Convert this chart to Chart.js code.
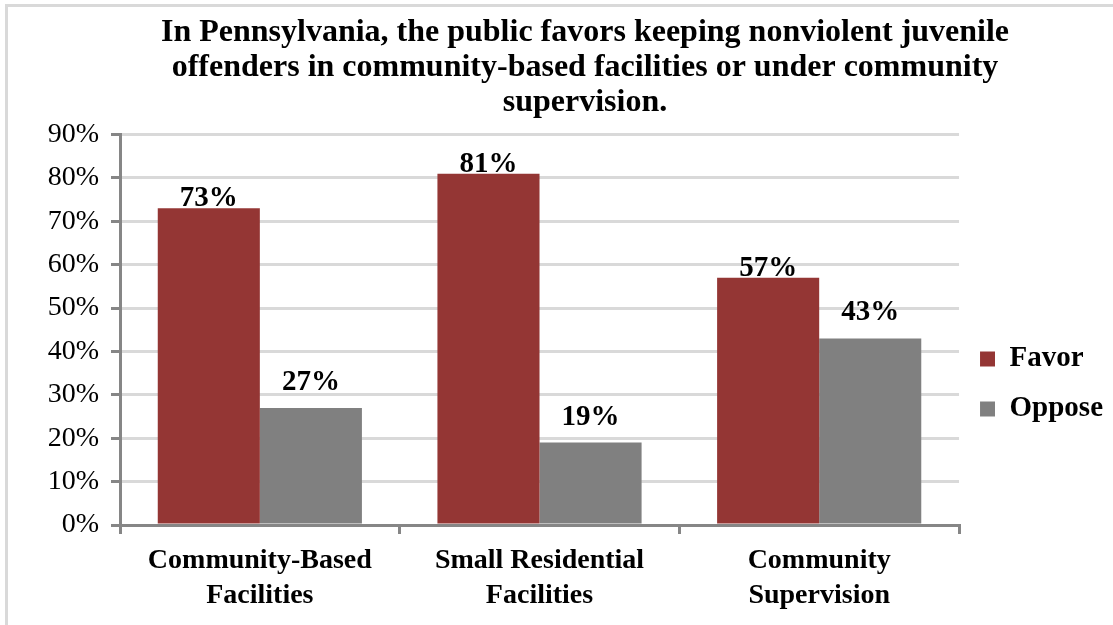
<!DOCTYPE html>
<html>
<head>
<meta charset="utf-8">
<script src="https://cdn.jsdelivr.net/npm/chart.js@4"></script>
<style>
    body { margin: 0; background: #fff; }
    #marco { position: absolute; left: 5px; top: 4px; width: 1108px; height: 621px;
             border-top: 3px solid #d9d9d9; border-left: 3px solid #d9d9d9; box-sizing: border-box; }
    #lienzo { position: absolute; left: 0; top: 0; }
</style>
</head>
<body>
<div id="marco"></div>
<canvas id="lienzo" width="1113" height="625"></canvas>
<script>
// Datos de la encuesta
const categorias = [
    ['Community-Based', 'Facilities'],
    ['Small Residential', 'Facilities'],
    ['Community', 'Supervision']
];
const favor = [73, 81, 57];
const oppose = [27, 19, 43];
const ticksY = [0, 10, 20, 30, 40, 50, 60, 70, 80, 90];

const fuente = 'Liberation Serif, Times New Roman, serif';

// Etiquetas de valor encima de cada barra (separación distinta por serie, como en el original)
const separacionEtiqueta = [2, 18];
const etiquetasBarras = {
    id: 'etiquetasBarras',
    afterDatasetsDraw(chart) {
        const ctx = chart.ctx;
        ctx.save();
        ctx.font = 'bold 29px ' + fuente;
        ctx.fillStyle = '#000';
        ctx.textAlign = 'center';
        ctx.textBaseline = 'alphabetic';
        chart.data.datasets.forEach((ds, i) => {
            chart.getDatasetMeta(i).data.forEach((bar, j) => {
                ctx.fillText(ds.data[j] + '%', bar.x, bar.y - separacionEtiqueta[i]);
            });
        });
        ctx.restore();
    }
};

// Ajuste de posición del título y la leyenda como en el original
const ajusteCajas = {
    id: 'ajusteCajas',
    afterLayout(chart) {
        if (chart.titleBlock) {
            chart.titleBlock.left += 32;
        }
        if (chart.legend) {
            chart.legend.top += 73;
            chart.legend.bottom += 73;
        }
    }
};

const ctx = document.getElementById('lienzo');
new Chart(ctx, {
    type: 'bar',
    data: {
        labels: categorias,
        datasets: [{
            label: 'Favor',
            data: favor,
            backgroundColor: '#943634'
        }, {
            label: 'Oppose',
            data: oppose,
            backgroundColor: '#808080'
        }]
    },
    options: {
        responsive: false,
        animation: false,
        layout: {
            padding: { left: 25, right: 0, top: 0, bottom: 3 }
        },
        datasets: {
            bar: { categoryPercentage: 0.73, barPercentage: 1.0 }
        },
        scales: {
            x: {
                grid: {
                    drawOnChartArea: false,
                    drawTicks: true,
                    tickLength: 9,
                    tickColor: '#868686',
                    lineWidth: 3
                },
                border: { color: '#868686', width: 3 },
                ticks: {
                    color: '#000',
                    font: { family: fuente, size: 28, weight: 'bold', lineHeight: 1.25 },
                    padding: 9
                }
            },
            y: {
                min: 0,
                max: 90,
                afterBuildTicks(axis) {
                    axis.ticks = ticksY.map(v => ({ value: v }));
                },
                afterFit(axis) {
                    axis.width = 95;
                },
                grid: {
                    color: '#d9d9d9',
                    lineWidth: 3,
                    tickColor: '#868686',
                    tickLength: 9
                },
                border: { color: '#868686', width: 3 },
                ticks: {
                    color: '#000',
                    font: { family: fuente, size: 28 },
                    padding: 12,
                    callback: v => v + '%'
                }
            }
        },
        plugins: {
            title: {
                display: true,
                text: [
                    'In Pennsylvania, the public favors keeping nonviolent juvenile',
                    'offenders in community-based facilities or under community',
                    'supervision.'
                ],
                color: '#000',
                font: { family: fuente, size: 32, weight: 'bold', lineHeight: 1.1 },
                padding: { top: 15, bottom: 14 }
            },
            legend: {
                position: 'right',
                maxWidth: 156,
                labels: {
                    color: '#000',
                    boxWidth: 15,
                    boxHeight: 15,
                    padding: 21,
                    font: { family: fuente, size: 29, weight: 'bold' }
                }
            },
            tooltip: { enabled: false }
        }
    },
    plugins: [etiquetasBarras, ajusteCajas]
});
</script>
</body>
</html>
